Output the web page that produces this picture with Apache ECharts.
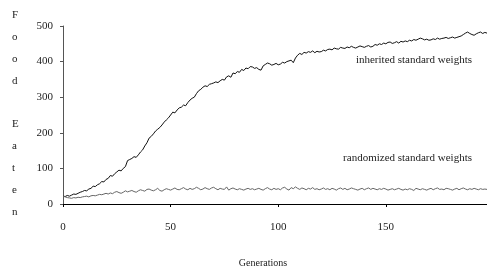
<!DOCTYPE html>
<html>
<head>
<meta charset="utf-8">
<script src="https://cdn.jsdelivr.net/npm/echarts@6/dist/echarts.min.js"></script>
<style>
  html, body { margin: 0; padding: 0; background: #fff; }
  #chart { width: 487px; height: 273px; }
</style>
</head>
<body>
<div id="chart"></div>
<script>
// values, one per generation (0..197)
const inherited = [
  22, 21, 24, 22, 25, 28, 27, 30, 33, 35,
  38, 37, 42, 44, 50, 49, 54, 57, 63, 62,
  69, 72, 80, 78, 85, 90, 95, 93, 100, 105,
  122, 125, 128, 133, 131, 138, 146, 152, 163, 172,
  185, 190, 197, 205, 210, 215, 222, 230, 236, 242,
  250, 258, 256, 264, 270, 272, 278, 276, 285, 292,
  297, 300, 310, 318, 322, 328, 332, 330, 336, 338,
  340, 343, 341, 346, 350, 348, 357, 360, 356, 368,
  366, 372, 370, 378, 375, 382, 380, 386, 385, 381,
  383, 378, 376, 388, 392, 396, 394, 390, 392, 395,
  391, 393, 398, 396, 400, 402, 404, 397, 410, 418,
  423, 420, 426, 424, 428, 426, 430, 425, 429, 427,
  428, 432, 430, 434, 435, 433, 438, 436, 435, 440,
  438, 437, 441, 439, 443, 440, 438, 441, 444, 442,
  440, 443, 445, 441, 443, 448, 446, 450, 448, 452,
  450, 454, 455, 451, 453, 456, 452, 457, 455, 458,
  456, 460, 458, 462, 460, 463, 466, 464, 461, 463,
  460, 461, 464, 462, 466, 463, 465, 466, 468, 465,
  467, 469, 466, 468, 470, 472, 476, 480, 483, 479,
  476, 474, 478, 481, 483, 479, 482, 480
]

const randomized = [
  22, 20, 18, 17, 16, 18, 17, 19, 18, 20,
  21, 22, 20, 23, 24, 23, 25, 27, 26, 28,
  30, 28, 31, 29, 33, 35, 32, 30, 33, 37,
  34, 36, 38, 35, 33, 37, 40, 38, 36, 41,
  42, 39, 37, 40, 44, 38, 36, 40, 43, 41,
  39, 42, 45, 41, 40, 43, 46, 42, 40, 44,
  41, 43, 47, 44, 40, 42, 46, 43, 41, 45,
  47, 43, 40, 44, 42, 41, 48, 39, 43, 45,
  42, 40, 43, 41, 39, 42, 44, 41, 43, 40,
  42, 44, 41, 39, 43, 46, 42, 40, 44, 41,
  43, 40, 45, 47, 42, 39, 46, 43, 48, 44,
  41, 45, 43, 40, 44, 42, 46, 41, 43, 40,
  42, 45, 41, 43, 40, 44, 42, 39, 43, 45,
  41, 44, 40, 42, 45, 43, 41, 39, 42, 44,
  40, 43, 45, 41, 44, 42, 40, 43, 41, 44,
  42, 39, 41, 43, 40, 42, 44, 41, 39, 42,
  40, 43, 41, 38, 44, 42, 40, 43, 41, 39,
  42, 44, 40, 43, 45, 41, 42, 40, 44, 43,
  41, 39, 42, 44, 40, 43, 45, 42, 40, 43,
  41, 44, 42, 40, 43, 41, 42, 41
]

const seriesNames = ['inherited standard weights', 'randomized standard weights']
const yAxisTitle = 'Food Eaten'
const xAxisTitle = 'Generations'

const serif = "'Liberation Serif', 'DejaVu Serif', serif"
const toPairs = (arr) => arr.map((v, i) => [i, v])

const chart = echarts.init(document.getElementById('chart'))

chart.setOption({
  backgroundColor: '#fff',
  animation: false,
  grid: { left: 63, right: 0, top: 26, bottom: 69 },
  xAxis: {
    type: 'value',
    min: 0,
    max: inherited.length - 1,
    interval: 50,
    axisLine: { lineStyle: { color: '#000', width: 1 } },
    axisTick: { show: true, length: 3, lineStyle: { color: '#000' } },
    axisLabel: { color: '#222', fontSize: 11, fontFamily: serif, margin: 18, showMaxLabel: false },
    splitLine: { show: false },
  },
  yAxis: {
    type: 'value',
    min: 0,
    max: 500,
    interval: 100,
    axisLine: { show: true, lineStyle: { color: '#555', width: 1 } },
    axisTick: { show: true, length: 3, lineStyle: { color: '#555' } },
    axisLabel: { color: '#222', fontSize: 11, fontFamily: serif, margin: 10 },
    splitLine: { show: false },
  },
  series: [
    {
      name: seriesNames[0],
      type: 'line',
      data: toPairs(inherited),
      showSymbol: false,
      lineStyle: { color: '#111', width: 1 },
    },
    {
      name: seriesNames[1],
      type: 'line',
      data: toPairs(randomized),
      showSymbol: false,
      lineStyle: { color: '#666', width: 1 },
    },
  ],
  graphic: [
    {
      type: 'text',
      left: 12,
      top: 4,
      style: {
        text: yAxisTitle.replace(' ', '  ').split('').join('\n').replace('\n \n \n', '\n\n'),
        font: '11px ' + serif,
        lineHeight: 21.9,
        align: 'center',
        fill: '#222',
      },
    },
    {
      type: 'text',
      x: 263,
      y: 263,
      style: {
        text: xAxisTitle,
        font: '10px ' + serif,
        align: 'center',
        verticalAlign: 'middle',
        fill: '#222',
      },
    },
    {
      type: 'text',
      x: 472,
      y: 60,
      style: {
        text: seriesNames[0],
        font: '11px ' + serif,
        align: 'right',
        verticalAlign: 'middle',
        fill: '#222',
      },
    },
    {
      type: 'text',
      x: 472,
      y: 158,
      style: {
        text: seriesNames[1],
        font: '11px ' + serif,
        align: 'right',
        verticalAlign: 'middle',
        fill: '#222',
      },
    },
  ],
})
</script>
</body>
</html>
